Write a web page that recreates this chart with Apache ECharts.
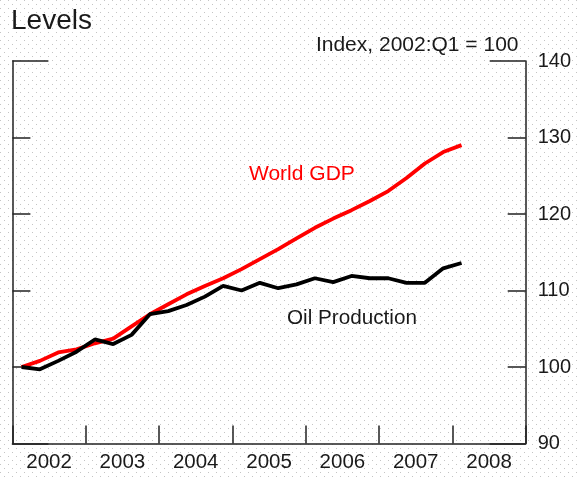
<!DOCTYPE html>
<html>
<head>
<meta charset="utf-8">
<script src="https://cdn.jsdelivr.net/npm/echarts@6/dist/echarts.min.js"></script>
<style>
html,body{margin:0;padding:0;background:#fff;}
#c{width:578px;height:480px;}
</style>
</head>
<body>
<div id="c"></div>
<script>
// ---- data ----
var years = ['2002', '2003', '2004', '2005', '2006', '2007', '2008'];
var quarters = [
  '2002Q1','2002Q2','2002Q3','2002Q4',
  '2003Q1','2003Q2','2003Q3','2003Q4',
  '2004Q1','2004Q2','2004Q3','2004Q4',
  '2005Q1','2005Q2','2005Q3','2005Q4',
  '2006Q1','2006Q2','2006Q3','2006Q4',
  '2007Q1','2007Q2','2007Q3','2007Q4',
  '2008Q1'
];
var worldGDP = [
  100.0, 100.8, 101.9, 102.3,
  103.1, 103.7, 105.3, 106.9,
  108.2, 109.5, 110.6, 111.6,
  112.8, 114.1, 115.4, 116.8,
  118.2, 119.4, 120.5, 121.7,
  123.0, 124.7, 126.6, 128.1,
  129.0
];
var oilProduction = [
  100.0, 99.7, 100.8, 102.0,
  103.6, 103.0, 104.2, 106.9,
  107.3, 108.1, 109.2, 110.6,
  110.0, 111.0, 110.3, 110.8,
  111.6, 111.1, 111.9, 111.6,
  111.6, 111.0, 111.0, 112.9,
  113.6
];
var yTicks = [90, 100, 110, 120, 130, 140];

// quarter label -> decimal year (mid-quarter)
function qpos(q) {
  return parseInt(q.slice(0, 4), 10) + (parseInt(q.slice(5), 10) - 1) * 0.25 + 0.125;
}
function pairs(vals) {
  return quarters.map(function (q, i) { return [qpos(q), vals[i]]; });
}

var FONT = '"Liberation Sans", Arial, Helvetica, sans-serif';
var INK = '#1a1a1a';
var AXIS = '#222';

// dotted background pattern
var pat = document.createElement('canvas');
pat.width = 8; pat.height = 8;
var pc = pat.getContext('2d');
pc.fillStyle = '#ffffff'; pc.fillRect(0, 0, 8, 8);
pc.fillStyle = '#c4c4c4';
pc.fillRect(0, 0, 1, 1);
pc.fillRect(4, 4, 1, 1);

var chart = echarts.init(document.getElementById('c'), null, {renderer: 'canvas'});

var yMin = yTicks[0], yMax = yTicks[yTicks.length - 1], yStep = yTicks[1] - yTicks[0];

function yAx(pos, tickLen, step, showLine, showLabel) {
  return {
    type: 'value', position: pos, min: yMin, max: yMax, interval: step,
    axisLine: {show: showLine, lineStyle: {color: AXIS, width: 1.5}},
    axisTick: {show: true, inside: true, length: tickLen, lineStyle: {color: AXIS, width: 1.5}},
    axisLabel: {show: showLabel, inside: false, margin: 12, fontSize: 20, color: INK, fontFamily: FONT},
    splitLine: {show: false}
  };
}

chart.setOption({
  animation: false,
  backgroundColor: {image: pat, repeat: 'repeat'},
  grid: {left: 12.4, right: 52.3, top: 61, bottom: 36.5, containLabel: false},
  xAxis: [
    {
      type: 'category', data: years, boundaryGap: true, position: 'bottom',
      axisLine: {show: true, lineStyle: {color: AXIS, width: 1.5}},
      axisTick: {show: true, inside: true, length: 18, interval: 0, lineStyle: {color: AXIS, width: 1.5}},
      axisLabel: {margin: 8, fontSize: 20.5, color: INK, fontFamily: FONT, interval: 0},
      splitLine: {show: false}
    },
    {
      type: 'value', min: 2002, max: 2009, show: false
    }
  ],
  yAxis: [
    yAx('left', 18, yStep, true, false),
    yAx('right', 18, yStep, true, true),
    yAx('left', 36, yMax - yMin, false, false),
    yAx('right', 36, yMax - yMin, false, false)
  ],
  series: [
    {
      name: 'World GDP', type: 'line', xAxisIndex: 1, yAxisIndex: 0,
      data: pairs(worldGDP), showSymbol: false, symbol: 'none',
      lineStyle: {color: '#ff0000', width: 3.8}, z: 3
    },
    {
      name: 'Oil Production', type: 'line', xAxisIndex: 1, yAxisIndex: 0,
      data: pairs(oilProduction), showSymbol: false, symbol: 'none',
      lineStyle: {color: '#000000', width: 3.8}, z: 4
    }
  ],
  graphic: [
    {type: 'text', left: 11, top: 7, style: {text: 'Levels', fontSize: 28, fontFamily: FONT, fill: INK}},
    {type: 'text', x: 518.5, y: 45, style: {text: 'Index, 2002:Q1 = 100', fontSize: 21, fontFamily: FONT, fill: INK, textAlign: 'right', textVerticalAlign: 'middle'}},
    {type: 'text', x: 249, y: 174, style: {text: 'World GDP', fontSize: 21, fontFamily: FONT, fill: '#ff0000', textAlign: 'left', textVerticalAlign: 'middle'}},
    {type: 'text', x: 287, y: 318, style: {text: 'Oil Production', fontSize: 20.7, fontFamily: FONT, fill: INK, textAlign: 'left', textVerticalAlign: 'middle'}}
  ]
});
</script>
</body>
</html>
